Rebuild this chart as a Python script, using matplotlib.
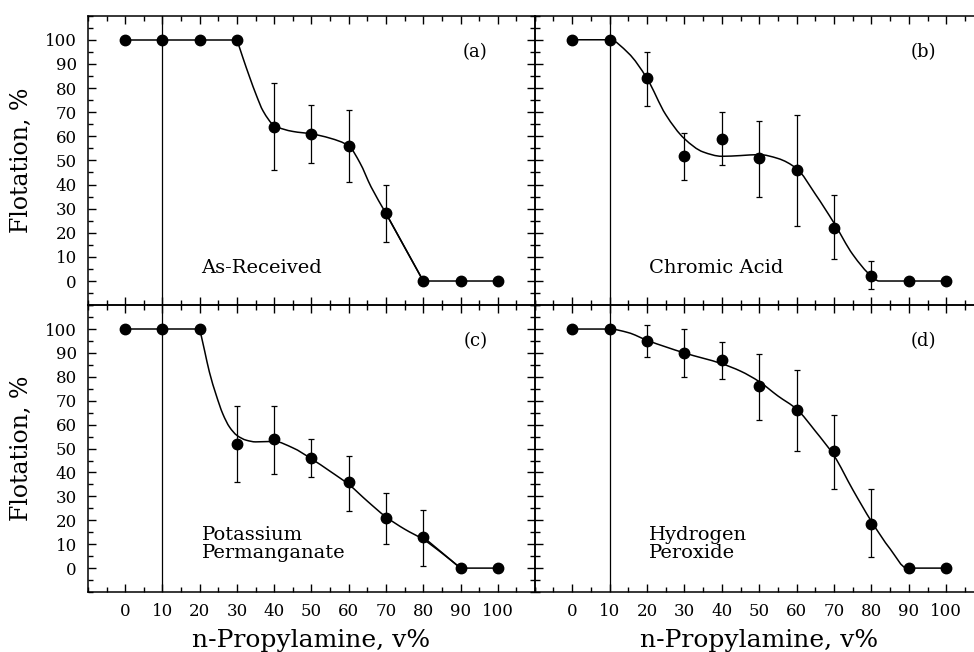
import matplotlib.pyplot as plt
import numpy as np
from matplotlib.path import Path
from matplotlib.patches import PathPatch
from matplotlib.ticker import MultipleLocator

# n-Propylamine concentration (v%)
conc = [0, 10, 20, 30, 40, 50, 60, 70, 80, 90, 100]

# (a) As-Received
flot_a = [100, 100, 100, 100, 64, 61, 56, 28, 0, 0, 0]
lo_a = [100, 100, 100, 100, 46, 49, 41, 16, 0, 0, 0]
hi_a = [100, 100, 100, 100, 82, 73, 71, 40, 0, 0, 0]
curve_a_x = [30, 31.6, 33.4, 35.2, 37, 40, 45, 50, 55, 60, 63, 66, 70, 75, 80]
curve_a_y = [100, 92.5, 84.5, 77, 70.5, 64.5, 62, 61, 59.2, 56, 49, 39, 28, 14, 0]

# (b) Chromic Acid
flot_b = [100, 100, 84, 52, 59, 51, 46, 22, 2, 0, 0]
lo_b = [100, 100, 72.5, 42, 48, 35, 23, 9, -3.5, 0, 0]
hi_b = [100, 100, 95, 61.5, 70, 66.5, 69, 35.5, 8.5, 0, 0]
curve_b_x = [0, 10, 15, 20, 25, 30, 35, 40, 45, 50, 55, 60, 65, 70, 75, 80, 82, 90, 100]
curve_b_y = [100, 100, 94.5, 84, 69, 59, 53.5, 51.7, 52, 52.4, 50.8, 46.6, 36, 24, 11, 2, 0, 0, 0]

# (c) Potassium Permanganate
flot_c = [100, 100, 100, 52, 54, 46, 36, 21, 13, 0, 0]
lo_c = [100, 100, 100, 36, 39.5, 38, 24, 10, 1, 0, 0]
hi_c = [100, 100, 100, 68, 68, 54, 47, 31.5, 24.5, 0, 0]
curve_c_x = [20, 21.3, 22.6, 24.4, 26.2, 28, 30, 32.5, 35, 40, 45, 50, 55, 60, 65, 70, 75, 80, 85, 90]
curve_c_y = [100, 91, 82, 72.5, 64.5, 59, 55.5, 53.5, 52.8, 53, 50.3, 45.7, 40.5, 35, 28, 21.4, 16.3, 12, 6.3, 0]

# (d) Hydrogen Peroxide
flot_d = [100, 100, 95, 90, 87, 76, 66, 49, 18.5, 0, 0]
lo_d = [100, 100, 88.5, 80, 79, 62, 49, 33, 4.5, 0, 0]
hi_d = [100, 100, 101.5, 100, 94.5, 89.5, 83, 64, 33, 0, 0]
curve_d_x = [0, 10, 15, 20, 30, 40, 45, 50, 55, 60, 65, 70, 75, 80, 85, 89.5, 100]
curve_d_y = [100, 100, 98.5, 95.3, 90, 85.5, 82.4, 78, 72, 66.5, 57.3, 47, 32.8, 19.5, 8, 0, 0]

panels = [
    ("(a)", "As-Received", flot_a, lo_a, hi_a, curve_a_x, curve_a_y, 4, 8),
    ("(b)", "Chromic Acid", flot_b, lo_b, hi_b, curve_b_x, curve_b_y, 0, 11),
    ("(c)", "Potassium\nPermanganate", flot_c, lo_c, hi_c, curve_c_x, curve_c_y, 3, 9),
    ("(d)", "Hydrogen\nPeroxide", flot_d, lo_d, hi_d, curve_d_x, curve_d_y, 0, 11),
]


def smooth_path(xs, ys):
    # monotone cubic (pchip) tangents, drawn as bezier segments
    xs = np.asarray(xs, float)
    ys = np.asarray(ys, float)
    h = np.diff(xs)
    d = np.diff(ys) / h
    m = np.zeros_like(ys)
    m[0], m[-1] = d[0], d[-1]
    for k in range(1, len(xs) - 1):
        if d[k - 1] * d[k] > 0:
            w1 = 2 * h[k] + h[k - 1]
            w2 = h[k] + 2 * h[k - 1]
            m[k] = (w1 + w2) / (w1 / d[k - 1] + w2 / d[k])
    verts = [(xs[0], ys[0])]
    codes = [Path.MOVETO]
    for k in range(len(h)):
        verts += [(xs[k] + h[k] / 3, ys[k] + m[k] * h[k] / 3),
                  (xs[k + 1] - h[k] / 3, ys[k + 1] - m[k + 1] * h[k] / 3),
                  (xs[k + 1], ys[k + 1])]
        codes += [Path.CURVE4] * 3
    return Path(verts, codes)


plt.rcParams['font.family'] = 'DejaVu Serif'

fig = plt.figure(figsize=(9.74, 6.52), dpi=100)
boxes = [
    [0.0903, 0.532, 0.459, 0.444],
    [0.549, 0.532, 0.461, 0.444],
    [0.0903, 0.092, 0.459, 0.440],
    [0.549, 0.092, 0.461, 0.440],
]

for i, (tag, name, y, lo, hi, cx, cy, head, tail) in enumerate(panels):
    ax = fig.add_axes(boxes[i])
    x = np.array(conc)
    y = np.array(y)
    yerr = [y - np.array(lo), np.array(hi) - y]
    has_err = (yerr[0] > 0) | (yerr[1] > 0)

    # straight flat runs
    if head > 0:
        ax.plot(x[:head], y[:head], color='k', lw=1.1)
    if tail < len(x):
        ax.plot(x[tail - 1:], y[tail - 1:], color='k', lw=1.1)
    ax.add_patch(PathPatch(smooth_path(cx, cy), fill=False, edgecolor='k', lw=1.1))

    ax.errorbar(x[has_err], y[has_err], yerr=[yerr[0][has_err], yerr[1][has_err]],
                fmt='none', ecolor='k', elinewidth=0.9, capsize=2.5, capthick=0.9)
    ax.plot(x, y, 'o', color='k', ms=7.5)

    ax.axvline(10, color='k', lw=0.9)

    ax.set_xlim(-10, 110)
    ax.set_ylim(-10, 110)
    ax.xaxis.set_minor_locator(MultipleLocator(5))
    ax.yaxis.set_minor_locator(MultipleLocator(5))
    ax.set_xticks(range(0, 101, 10))
    ax.set_yticks(range(0, 101, 10))
    ax.tick_params(which='both', direction='in', top=True, bottom=True,
                   left=True, right=True, width=1)
    ax.tick_params(which='major', length=6)
    ax.tick_params(which='minor', length=3.5)
    ax.tick_params(axis='y', labelsize=12, pad=8)
    ax.tick_params(axis='x', labelsize=12, pad=8)
    for s in ax.spines.values():
        s.set_linewidth(1.1)

    if i % 2 == 1:
        ax.tick_params(axis='y', labelleft=False)
        ax.spines['right'].set_visible(False)
    else:
        ax.set_ylabel("Flotation, %", fontsize=17)
        ax.yaxis.set_label_coords(-0.123, 0.5)
    if i < 2:
        ax.tick_params(axis='x', labelbottom=False)
    else:
        ax.set_xlabel("n-Propylamine, v%", fontsize=18)
        ax.xaxis.set_label_coords(0.5, -0.13)

    ax.text(94, 95, tag, ha='center', va='center', fontsize=13)
    ax.text(20.5, 10 if "\n" in name else 5.5, name, ha='left', va='center',
            fontsize=14, linespacing=1.0)

    ax.patch.set_alpha(0)

fig.savefig("out.png", dpi=100)
